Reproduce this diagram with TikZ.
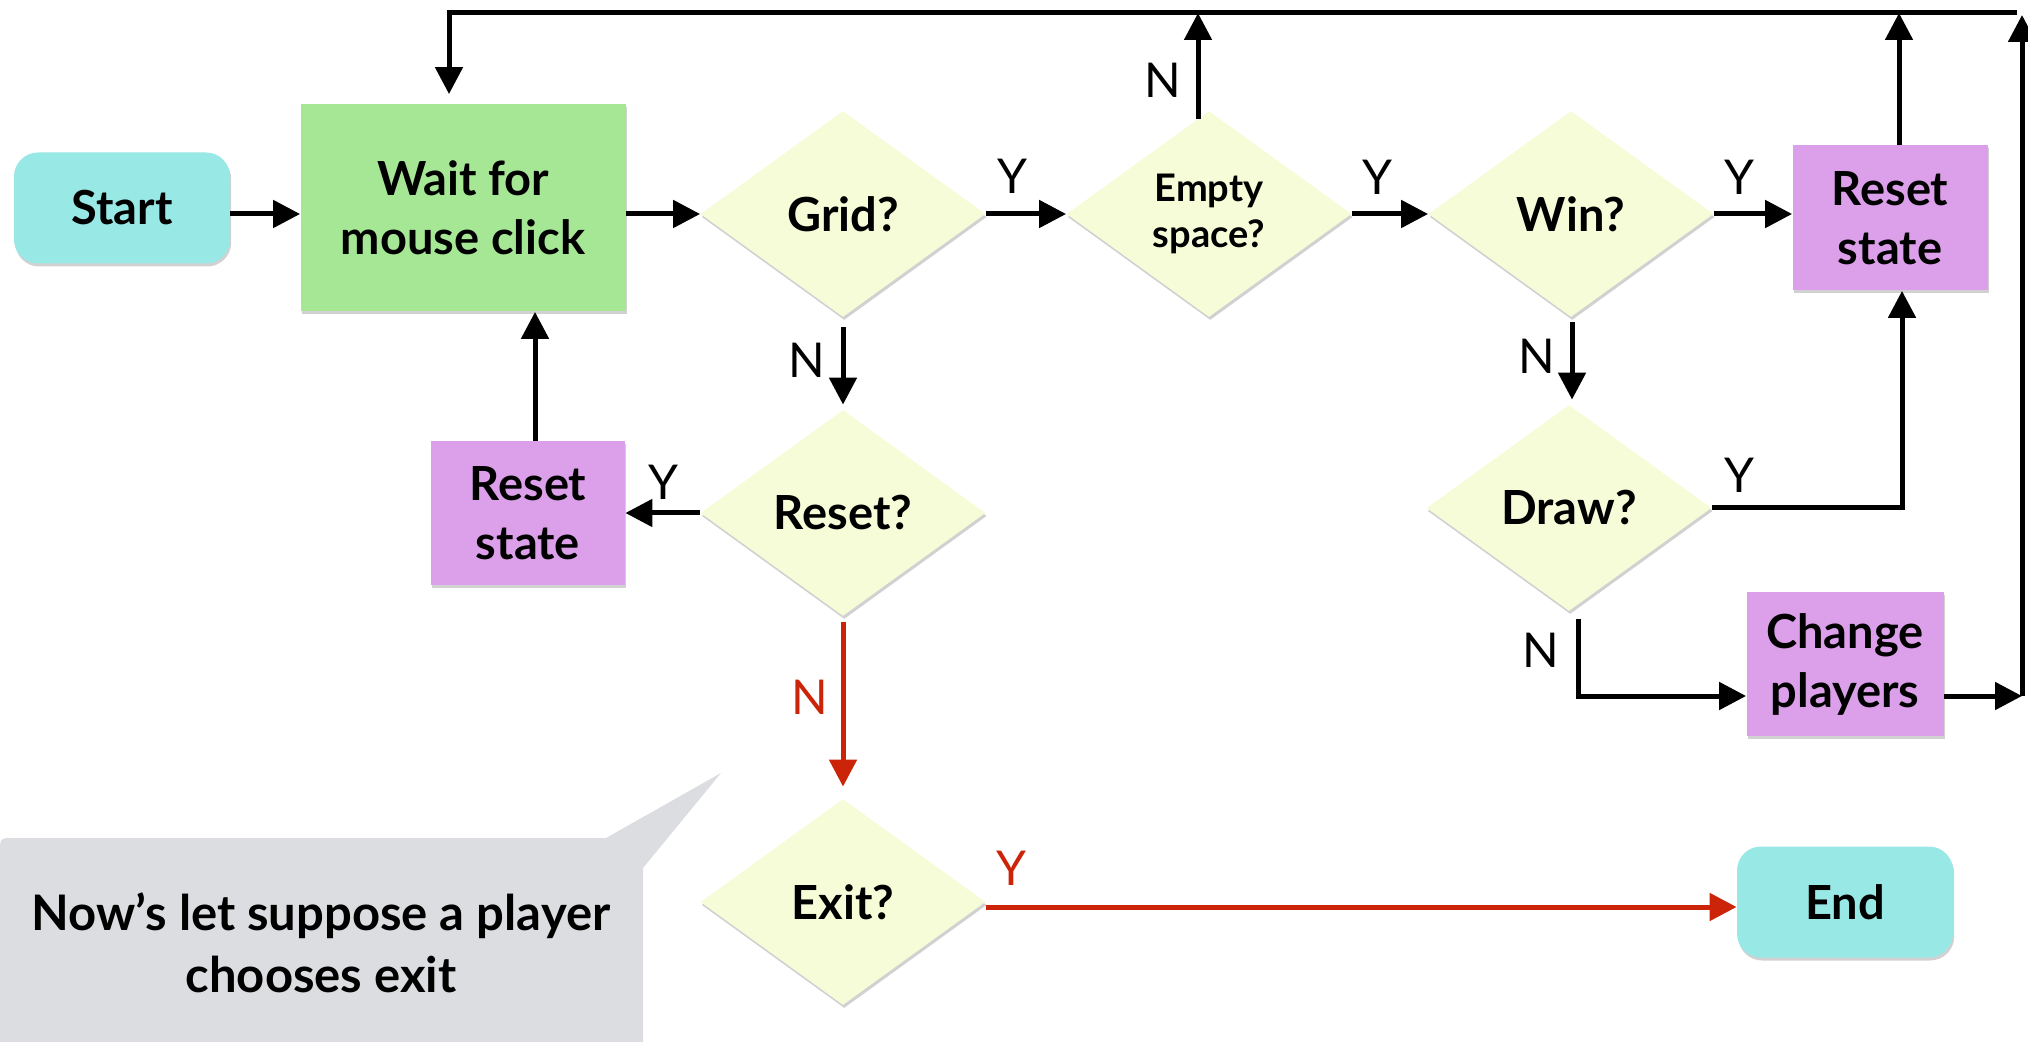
\documentclass[tikz,border=0pt]{standalone}
\usepackage{fontspec}
\setmainfont{Lato}
\usetikzlibrary{shapes.geometric,arrows.meta,shadows,calc}
\definecolor{cyanbox}{RGB}{152,232,230}
\definecolor{greenbox}{RGB}{166,231,150}
\definecolor{purplebox}{RGB}{220,160,234}
\definecolor{diafill}{RGB}{246,252,216}
\definecolor{callgray}{RGB}{220,221,224}
\definecolor{redline}{RGB}{204,36,8}
\tikzset{
  shad/.style={drop shadow={shadow xshift=0.6pt, shadow yshift=-1.5pt, opacity=0.3, fill=black!60}},
  boxfont/.style={font=\fontsize{23.5}{29.5}\selectfont\bfseries},
  termbox/.style={rounded corners=12pt, fill=cyanbox, minimum width=108pt, minimum height=55.5pt, shad, boxfont, align=center},
  procbox/.style={fill=purplebox, shad, boxfont, align=center, inner sep=0pt},
  decbox/.style={diamond, aspect=1.38, fill=diafill, inner sep=0pt, minimum width=142.5pt, minimum height=103pt, shad, align=center, boxfont},
  arr/.style={line width=2.5pt, -{Triangle[length=13.5pt,width=13.5pt]}},
  redarr/.style={arr, draw=redline},
  yn/.style={font=\fontsize{24}{24}\selectfont, inner sep=0pt},
}
\begin{document}
\begin{tikzpicture}[x=0.5pt,y=-0.5pt]
\useasboundingbox (0,0) rectangle (2028,1042);
% callout
\begin{scope}
\clip (0,0) rectangle (2028,1042);
\fill[callgray] (0,1070) -- (0,852) .. controls (0,838) .. (14,838) -- (606,838) -- (721,773) -- (643,868) -- (643,1070) -- cycle;
\end{scope}
\node[font=\fontsize{24.5}{31}\selectfont\bfseries, align=center] (note) at (321,943) {Now’s let suppose a player\\chooses exit};

% nodes
\node[termbox] (start) at (122,208) {Start};
\node[procbox, fill=greenbox, minimum width=162.5pt, minimum height=103.5pt] (wait) at (463,208) {Wait for\\mouse click};
\node[decbox] (grid) at (843,214) {Grid?};
\node[decbox, font=\fontsize{19}{23}\selectfont\bfseries] (empty) at (1209,214) {Empty\\space?};
\node[decbox] (win) at (1571,214) {Win?};
\node[procbox, minimum width=97.5pt, minimum height=72.5pt] (resetR) at (1890,218) {Reset\\state};
\node[decbox] (resetq) at (843,513) {Reset?};
\node[procbox, minimum width=97pt, minimum height=72pt] (resetL) at (528,513) {Reset\\state};
\node[decbox] (draw) at (1569,508) {Draw?};
\node[procbox, minimum width=98.5pt, minimum height=72pt] (change) at (1845,664) {Change\\players};
\node[decbox] (exit) at (843,902) {Exit?};
\node[termbox] (end) at (1845,902) {End};

\coordinate (tr) at (2017,13);
\coordinate (tl) at (449,13);
\coordinate (rc) at (2022,696);
\coordinate (rtop) at (2022,15);

% connectors
\draw[arr] (start.east |- grid.west) -- (wait.west |- grid.west);
\draw[arr] (wait.east |- grid.west) -- (grid.west);
\draw[arr] (grid.east) -- (empty.west);
\draw[arr] (empty.east) -- (win.west);
\draw[arr] (win.east) -- (win.east -| resetR.west);
\draw[arr] ([yshift=-5pt]grid.south) -- ([yshift=2.5pt]resetq.north);
\draw[arr] ([yshift=-2.5pt,xshift=0.5pt]win.south) -- ([yshift=2.5pt,xshift=1.5pt]draw.north);
\draw[arr] (resetq.west) -- (resetL.east);
\draw[arr] ([xshift=3.5pt]resetL.north) -- ([xshift=3.5pt]resetL.north |- wait.south);
\draw[arr] ([xshift=-5.5pt,yshift=-4pt]empty.north) -- ([xshift=-5.5pt]empty.north |- tr);
\draw[arr] ([xshift=4.5pt]resetR.north) -- ([xshift=4.5pt]resetR.north |- tr);
\draw[arr] (tr) -- (tl) -- ([yshift=5pt]wait.north -| tl);
\draw[arr] (draw.east) -| ([xshift=6pt]resetR.south);
\draw[arr] ([xshift=4.5pt,yshift=-4pt]draw.south) |- ([yshift=-16pt]change.west);
\draw[arr] ([yshift=-16pt]change.east) -- (rc);
\draw[arr] (rc) -- (rtop);
\draw[redarr] ([yshift=-3pt]resetq.south) -- ([yshift=6pt]exit.north);
\draw[redarr] ([yshift=-2.5pt]exit.east) -- ([yshift=-2.5pt]end.west);

% labels
\node[yn] (y1) at (1012,176) {Y};
\node[yn] (y2) at (1377,177) {Y};
\node[yn] (y3) at (1739,177) {Y};
\node[yn] (n1) at (1163,80) {N};
\node[yn] (n2) at (807,360) {N};
\node[yn] (n3) at (1537,356) {N};
\node[yn] (y4) at (1739,475) {Y};
\node[yn] (n4) at (1541,650) {N};
\node[yn] (y5) at (663,482) {Y};
\node[yn, text=redline] (n5) at (810,697) {N};
\node[yn, text=redline] (y6) at (1011,868) {Y};
\end{tikzpicture}
\end{document}
